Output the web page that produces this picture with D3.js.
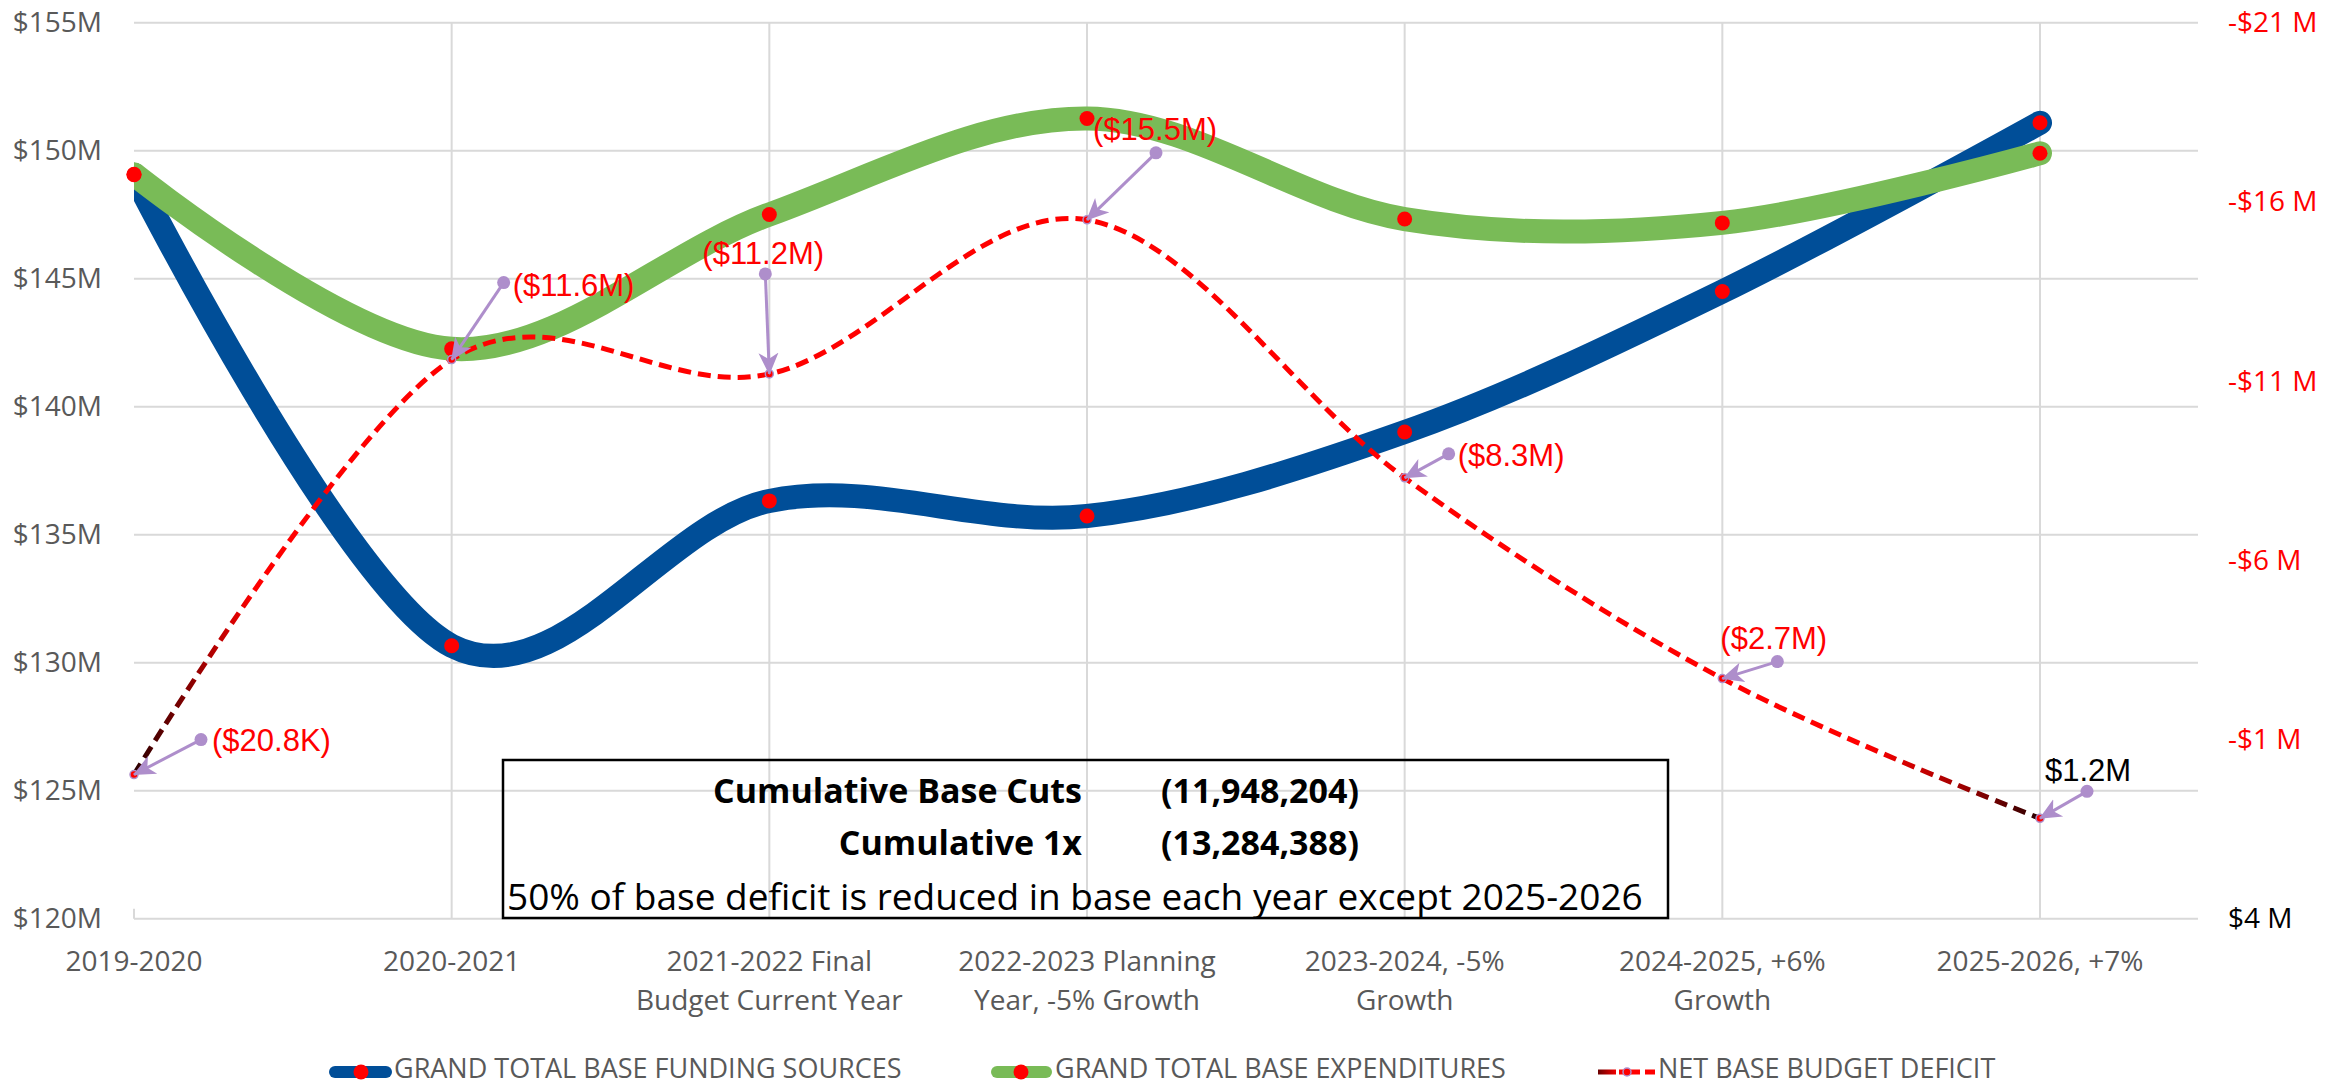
<!DOCTYPE html>
<html>
<head>
<meta charset="utf-8">
<script src="https://cdn.jsdelivr.net/npm/d3@7"></script>
<style>
  html, body { margin: 0; padding: 0; background: #ffffff; }
  svg { display: block; }
</style>
</head>
<body>
<svg id="chart" width="2351" height="1087"></svg>
<script>
// ---------------- DATA ----------------
const categories = ["2019-2020", "2020-2021", "2021-2022 Final Budget Current Year",
  "2022-2023 Planning Year, -5% Growth", "2023-2024, -5% Growth", "2024-2025, +6% Growth", "2025-2026, +7%"];
const categoryLines = [["2019-2020"], ["2020-2021"], ["2021-2022 Final", "Budget Current Year"],
  ["2022-2023 Planning", "Year, -5% Growth"], ["2023-2024, -5%", "Growth"], ["2024-2025, +6%", "Growth"], ["2025-2026, +7%"]];
// $ millions (left axis)
const fundingSources = [149.06, 130.66, 136.32, 135.73, 139.01, 144.50, 151.09];
const baseExpenditures = [149.08, 142.26, 147.51, 151.26, 147.33, 147.18, 149.90];
// $ millions (right axis)
const netDeficit = [-0.0208, -11.6, -11.2, -15.5, -8.3, -2.7, 1.2];
const deficitLabels = ["($20.8K)", "($11.6M)", "($11.2M)", "($15.5M)", "($8.3M)", "($2.7M)", "$1.2M"];
const leftTicks = [120, 125, 130, 135, 140, 145, 150, 155];
const rightTicks = [-21, -16, -11, -6, -1, 4];
const seriesNames = ["GRAND TOTAL BASE FUNDING SOURCES", "GRAND TOTAL BASE EXPENDITURES", "NET BASE BUDGET DEFICIT"];
const boxRows = [["Cumulative Base Cuts", "(11,948,204)"], ["Cumulative 1x", "(13,284,388)"]];
const boxNote = "50% of base deficit is reduced in base each year except 2025-2026";

// ---------------- LAYOUT ----------------
const plot = { left: 134, right: 2198, top: 22.7, bottom: 918.7, lastX: 2040 };
const callout = [ // offsets of callout dot and label from the data point (px)
  { dx: 67, dy: -35, tx: 78, ty: -34 },
  { dx: 52, dy: -77, tx: 61, ty: -74 },
  { dx: -4, dy: -100, tx: -67, ty: -120 },
  { dx: 69, dy: -67, tx: 6, ty: -90 },
  { dx: 44, dy: -24, tx: 53, ty: -22 },
  { dx: 55, dy: -17, tx: -2, ty: -40 },
  { dx: 47, dy: -27, tx: 5, ty: -48 }
];
const C = {
  blue: "#004e98", green: "#79bb57", red: "#ff0000", purple: "#ae8ecb",
  grid: "#d9d9d9", axisText: "#595959"
};
const fCal = "'Open Sans', 'Noto Sans', sans-serif";
const fArial = "'Liberation Sans', Arial, sans-serif";

const svg = d3.select("#chart");

const x = d3.scalePoint().domain(categories).range([plot.left, plot.lastX]);
const yL = d3.scaleLinear().domain([120, 155]).range([plot.bottom, plot.top]);
const yR = d3.scaleLinear().domain([4, -21]).range([plot.bottom, plot.top]);

const defs = svg.append("defs");
defs.append("clipPath").attr("id", "plotClip").append("rect")
  .attr("x", plot.left).attr("y", 0).attr("width", plot.right - plot.left).attr("height", plot.bottom + 2);

// gradient for the deficit line (dark ends)
const step = x.step();
const grad = defs.append("linearGradient").attr("id", "defGrad")
  .attr("gradientUnits", "userSpaceOnUse")
  .attr("x1", plot.left).attr("x2", plot.lastX).attr("y1", 0).attr("y2", 0);
const span = plot.lastX - plot.left;
[[0, "#2a0000"], [0.18 * step, "#8a0000"], [0.38 * step, C.red], [span - 0.55 * step, C.red],
 [span - 0.25 * step, "#a00000"], [span, "#2a0000"]].forEach(([o, c]) =>
  grad.append("stop").attr("offset", o / span).attr("stop-color", c));

const lgGrad = defs.append("linearGradient").attr("id", "lgGrad");
lgGrad.append("stop").attr("offset", 0).attr("stop-color", "#6a0000");
lgGrad.append("stop").attr("offset", 0.35).attr("stop-color", C.red);
lgGrad.append("stop").attr("offset", 1).attr("stop-color", C.red);

defs.append("marker").attr("id", "stealth")
  .attr("viewBox", "0 0 22 22").attr("refX", 21).attr("refY", 11)
  .attr("markerWidth", 22).attr("markerHeight", 22).attr("markerUnits", "userSpaceOnUse")
  .attr("orient", "auto")
  .append("path").attr("d", "M22,11 L0,1 L6,11 L0,21 Z").attr("fill", C.purple);

// ---------------- GRID ----------------
const grid = svg.append("g");
grid.selectAll("line.h").data(leftTicks).join("line")
  .attr("x1", plot.left).attr("x2", plot.right)
  .attr("y1", d => yL(d)).attr("y2", d => yL(d))
  .attr("stroke", C.grid).attr("stroke-width", 2);
grid.selectAll("line.v").data(categories.slice(1)).join("line")
  .attr("x1", d => x(d)).attr("x2", d => x(d))
  .attr("y1", plot.top).attr("y2", plot.bottom)
  .attr("stroke", C.grid).attr("stroke-width", 2);
grid.append("line").attr("x1", plot.left).attr("x2", plot.left)
  .attr("y1", plot.bottom - 10).attr("y2", plot.bottom).attr("stroke", C.grid).attr("stroke-width", 2);

// ---------------- AXES ----------------
const axL = svg.append("g").attr("transform", `translate(${plot.left},0)`)
  .call(d3.axisLeft(yL).tickValues(leftTicks).tickSize(0).tickPadding(32).tickFormat(d => `$${d}M`));
axL.select(".domain").remove();
axL.selectAll("text").attr("font-family", fCal).attr("font-size", 28).attr("fill", C.axisText);

const axR = svg.append("g").attr("transform", `translate(${plot.right},0)`)
  .call(d3.axisRight(yR).tickValues(rightTicks).tickSize(0).tickPadding(30)
    .tickFormat(d => (d < 0 ? `-$${-d} M` : `$${d} M`)));
axR.select(".domain").remove();
axR.selectAll("text").attr("font-family", fCal).attr("font-size", 28)
  .attr("fill", d => (d < 0 ? C.red : "#000000"));

// category labels
const catG = svg.append("g");
categories.forEach((c, i) => {
  const t = catG.append("text").attr("x", x(c)).attr("y", 960)
    .attr("text-anchor", "middle").attr("font-family", fCal).attr("font-size", 28)
    .attr("fill", C.axisText).attr("dominant-baseline", "central");
  categoryLines[i].forEach((ln, j) => {
    t.append("tspan").attr("x", x(c)).attr("y", 960 + j * 39).text(ln);
  });
});

// ---------------- TEXT BOX ----------------
const box = svg.append("g");
box.append("rect").attr("x", 503).attr("y", 760).attr("width", 1165).attr("height", 158)
  .attr("fill", "none").attr("stroke", "#000").attr("stroke-width", 2.5);
boxRows.forEach((r, i) => {
  const yy = 790 + i * 52;
  box.append("text").attr("x", 1082).attr("y", yy).attr("text-anchor", "end")
    .attr("dominant-baseline", "central").attr("font-family", fCal).attr("font-weight", "bold")
    .attr("font-size", 34).attr("fill", "#000").text(r[0]);
  box.append("text").attr("x", 1161).attr("y", yy).attr("text-anchor", "start")
    .attr("dominant-baseline", "central").attr("font-family", fCal).attr("font-weight", "bold")
    .attr("font-size", 34).attr("fill", "#000").text(r[1]);
});
box.append("text").attr("x", 507).attr("y", 895).attr("dominant-baseline", "central")
  .attr("font-family", fCal).attr("font-size", 37).attr("fill", "#000").text(boxNote);

// ---------------- LINES ----------------
const curve = d3.curveCardinal.tension(0);
const lines = svg.append("g").attr("clip-path", "url(#plotClip)");
const lineL = d3.line().x((d, i) => x(categories[i])).y(d => yL(d)).curve(curve);
const lineR = d3.line().x((d, i) => x(categories[i])).y(d => yR(d)).curve(curve);

lines.append("path").attr("d", lineL(fundingSources)).attr("fill", "none")
  .attr("stroke", C.blue).attr("stroke-width", 24).attr("stroke-linecap", "round").attr("stroke-linejoin", "round");
lines.append("path").attr("d", lineL(baseExpenditures)).attr("fill", "none")
  .attr("stroke", C.green).attr("stroke-width", 24).attr("stroke-linecap", "round").attr("stroke-linejoin", "round");
lines.append("path").attr("d", lineR(netDeficit)).attr("fill", "none")
  .attr("stroke", "url(#defGrad)").attr("stroke-width", 5).attr("stroke-dasharray", "13,7");

// markers
const mk = svg.append("g");
[fundingSources, baseExpenditures].forEach(s => {
  mk.selectAll(null).data(s).join("circle")
    .attr("cx", (d, i) => x(categories[i])).attr("cy", d => yL(d)).attr("r", 7.5).attr("fill", C.red);
});
mk.selectAll(null).data(netDeficit).join("circle")
  .attr("cx", (d, i) => x(categories[i])).attr("cy", d => yR(d)).attr("r", 4)
  .attr("fill", C.red).attr("stroke", C.purple).attr("stroke-width", 1.5);

// ---------------- CALLOUTS ----------------
const co = svg.append("g");
netDeficit.forEach((d, i) => {
  const px = x(categories[i]), py = yR(d), o = callout[i];
  co.append("line").attr("x1", px + o.dx).attr("y1", py + o.dy).attr("x2", px).attr("y2", py)
    .attr("stroke", C.purple).attr("stroke-width", 3).attr("marker-end", "url(#stealth)");
  co.append("circle").attr("cx", px + o.dx).attr("cy", py + o.dy).attr("r", 6.5).attr("fill", C.purple);
  co.append("text").attr("x", px + o.tx).attr("y", py + o.ty).attr("dominant-baseline", "central")
    .attr("font-family", fArial).attr("font-size", 31)
    .attr("fill", d < 0 ? C.red : "#000").text(deficitLabels[i]);
});

// ---------------- LEGEND ----------------
const lg = svg.append("g");
const ly = 1072;
lg.append("line").attr("x1", 335).attr("x2", 386).attr("y1", ly).attr("y2", ly)
  .attr("stroke", C.blue).attr("stroke-width", 12).attr("stroke-linecap", "round");
lg.append("circle").attr("cx", 361).attr("cy", ly).attr("r", 7.5).attr("fill", C.red);
lg.append("line").attr("x1", 997).attr("x2", 1046).attr("y1", ly).attr("y2", ly)
  .attr("stroke", C.green).attr("stroke-width", 12).attr("stroke-linecap", "round");
lg.append("circle").attr("cx", 1021).attr("cy", ly).attr("r", 7.5).attr("fill", C.red);
lg.append("rect").attr("x", 1598).attr("y", ly - 2.5).attr("width", 57).attr("height", 5)
  .attr("fill", "url(#lgGrad)");
lg.append("rect").attr("x", 1616).attr("y", ly - 3).attr("width", 3).attr("height", 6).attr("fill", "#fff");
lg.append("rect").attr("x", 1640).attr("y", ly - 3).attr("width", 5).attr("height", 6).attr("fill", "#fff");
lg.append("circle").attr("cx", 1627).attr("cy", ly).attr("r", 4).attr("fill", C.red)
  .attr("stroke", C.purple).attr("stroke-width", 1.5);
[[394, seriesNames[0]], [1055, seriesNames[1]], [1658, seriesNames[2]]].forEach(([xx, t]) => {
  lg.append("text").attr("x", xx).attr("y", 1067).attr("dominant-baseline", "central")
    .attr("font-family", fCal).attr("font-size", 27).attr("fill", C.axisText).text(t);
});
</script>
</body>
</html>
